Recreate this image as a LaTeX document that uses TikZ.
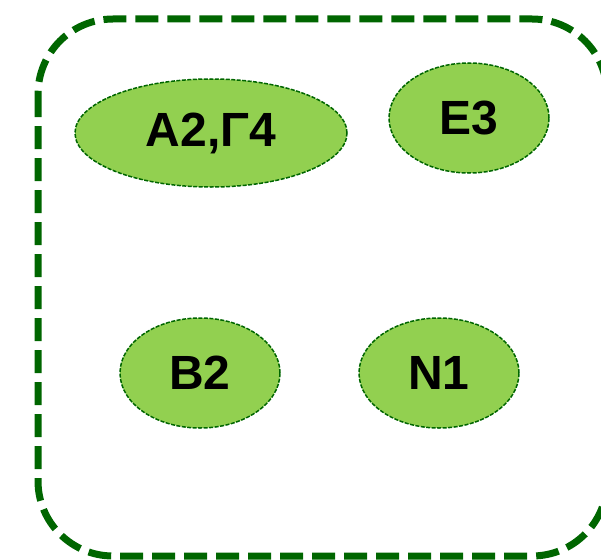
\documentclass[tikz,border=0pt]{standalone}
\usepackage{fontspec}
\setmainfont{Liberation Sans}
\usetikzlibrary{shapes.geometric}
\definecolor{darkgr}{HTML}{006600}
\definecolor{lightgr}{HTML}{92D050}
\tikzset{
  blob/.style={ellipse, draw=darkgr, fill=lightgr, line width=1.5pt,
    dash pattern=on 4pt off 1.5pt, inner sep=0pt,
    font=\fontsize{48}{50}\selectfont\bfseries, text=black},
  frame/.style={draw=darkgr, line width=7pt, dash pattern=on 23pt off 9pt,
    rounded corners=75pt}
}
\begin{document}
\begin{tikzpicture}[x=1pt,y=-1pt]
\useasboundingbox (0,0) rectangle (601,559);
\draw[frame] (38,19) rectangle (607,556);
\node[blob, minimum width=272pt, minimum height=108pt] (a) at (211,133) {A2,Γ4};
\node[blob, minimum width=160pt, minimum height=110pt] (e) at (469,118) {E3};
\node[blob, minimum width=160pt, minimum height=110pt] (b) at (200,373) {B2};
\node[blob, minimum width=160pt, minimum height=110pt] (n) at (439,373) {N1};
\end{tikzpicture}
\end{document}
